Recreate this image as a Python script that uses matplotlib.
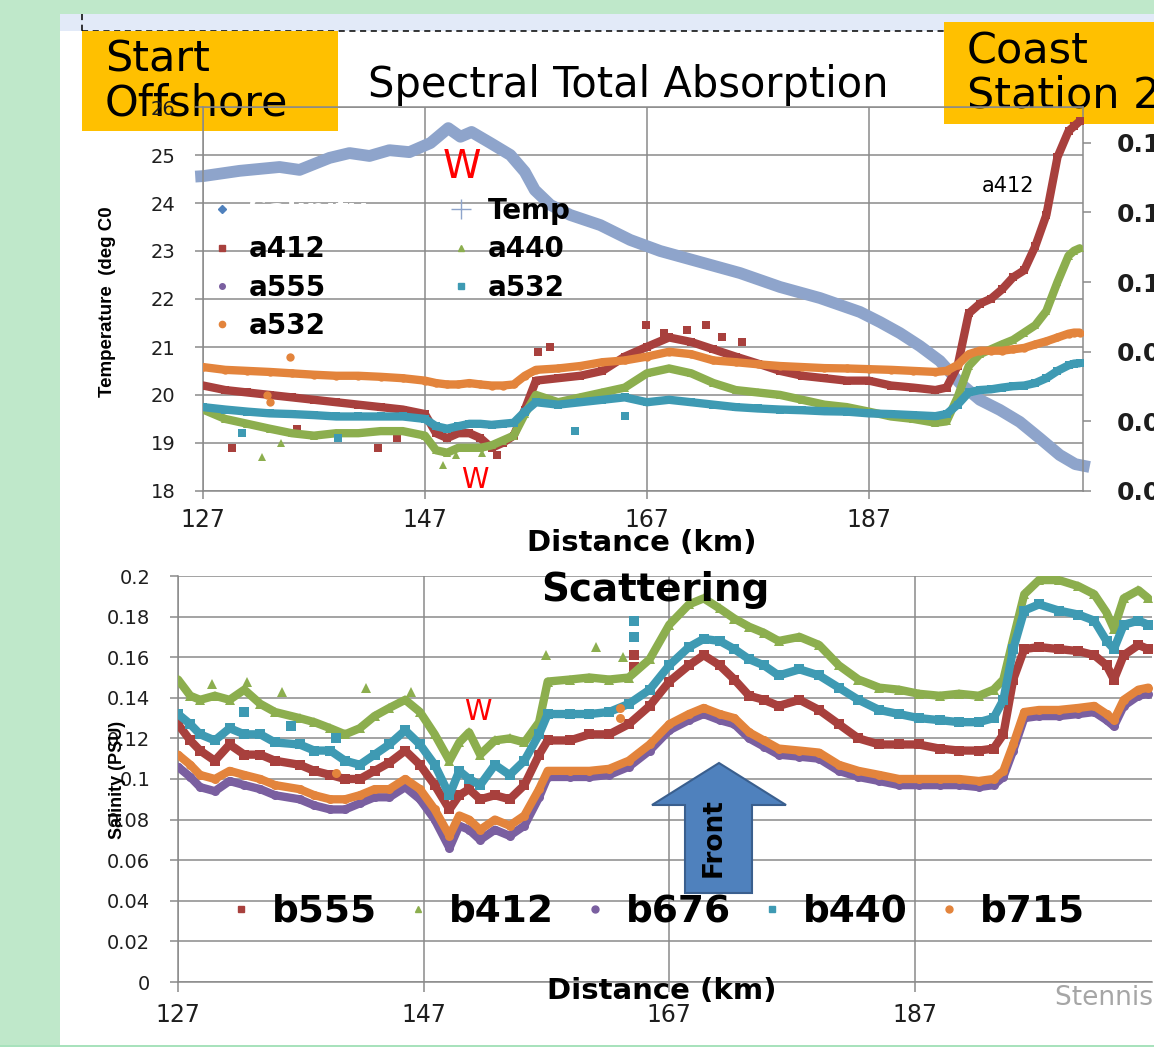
import matplotlib
matplotlib.use("Agg")
import matplotlib.pyplot as plt
from matplotlib.patches import Rectangle, Polygon
from matplotlib.lines import Line2D

# ---------------- upper panel: temperature (left) + spectral absorption (right)
temp_km = [126.3, 127.0, 130.3, 133.9, 135.7, 138.4, 140.2, 142.0, 143.8, 145.6,
           147.5, 149.1, 150.2, 151.2, 152.9, 154.7, 156.0, 156.9, 158.3, 160.1,
           162.8, 165.5, 168.2, 171.8, 175.4, 179.0, 182.6, 186.2, 188.0, 189.8,
           191.6, 193.4, 195.2, 197.0, 198.8, 200.6, 202.4, 204.2, 205.6, 206.9]
temp_degc = [24.55, 24.56, 24.67, 24.75, 24.69, 24.94, 25.04, 24.98, 25.10, 25.06,
             25.25, 25.56, 25.38, 25.48, 25.25, 25.00, 24.65, 24.27, 23.96, 23.75,
             23.54, 23.23, 23.00, 22.77, 22.54, 22.25, 22.02, 21.73, 21.52, 21.29,
             21.02, 20.71, 20.25, 19.90, 19.69, 19.44, 19.10, 18.75, 18.56, 18.50]

abs_km = [127, 129, 131, 133, 135, 137, 139, 141, 143, 145,
          147, 148, 149, 150, 151, 152, 153, 154, 155, 156,
          157, 159, 161, 163, 165, 167, 169, 171, 173, 175,
          177, 179, 181, 183, 185, 187, 189, 191, 193, 194,
          195, 196, 197, 198, 199, 200, 201, 202, 203, 204,
          205, 205.5, 206]
a412 = [0.0703, 0.0690, 0.0683, 0.0676, 0.0669, 0.0662, 0.0655, 0.0648, 0.0641, 0.0634,
        0.0621, 0.0566, 0.0552, 0.0566, 0.0566, 0.0552, 0.0524, 0.0538, 0.0559, 0.0634,
        0.0717, 0.0724, 0.0731, 0.0745, 0.0786, 0.0814, 0.0841, 0.0828, 0.0807, 0.0786,
        0.0766, 0.0745, 0.0731, 0.0724, 0.0717, 0.0717, 0.0703, 0.0697, 0.0690, 0.0697,
        0.0759, 0.0910, 0.0938, 0.0952, 0.0979, 0.1014, 0.1034, 0.1103, 0.1193, 0.1359,
        0.1434, 0.1448, 0.1462]
a440 = [0.0634, 0.0607, 0.0593, 0.0579, 0.0566, 0.0559, 0.0566, 0.0566, 0.0572, 0.0572,
        0.0559, 0.0517, 0.0510, 0.0524, 0.0524, 0.0524, 0.0531, 0.0545, 0.0559, 0.0621,
        0.0676, 0.0655, 0.0669, 0.0683, 0.0697, 0.0738, 0.0752, 0.0738, 0.0710, 0.0690,
        0.0683, 0.0676, 0.0662, 0.0648, 0.0641, 0.0628, 0.0614, 0.0607, 0.0596, 0.0600,
        0.0669, 0.0759, 0.0793, 0.0807, 0.0821, 0.0834, 0.0855, 0.0876, 0.0917, 0.1000,
        0.1076, 0.1090, 0.1097]
a532_blue = [0.0641, 0.0634, 0.0628, 0.0623, 0.0621, 0.0618, 0.0614, 0.0614, 0.0614, 0.0614,
             0.0607, 0.0586, 0.0579, 0.0586, 0.0593, 0.0593, 0.0590, 0.0593, 0.0596, 0.0628,
             0.0655, 0.0648, 0.0655, 0.0662, 0.0669, 0.0655, 0.0662, 0.0655, 0.0648, 0.0641,
             0.0637, 0.0634, 0.0632, 0.0629, 0.0628, 0.0623, 0.0621, 0.0618, 0.0615, 0.0621,
             0.0648, 0.0683, 0.0690, 0.0692, 0.0697, 0.0701, 0.0703, 0.0710, 0.0724, 0.0745,
             0.0761, 0.0766, 0.0767]
a532_orange = [0.0756, 0.0748, 0.0745, 0.0742, 0.0738, 0.0734, 0.0731, 0.0731, 0.0728, 0.0724,
               0.0717, 0.0710, 0.0706, 0.0706, 0.0710, 0.0706, 0.0703, 0.0703, 0.0706, 0.0731,
               0.0748, 0.0752, 0.0759, 0.0770, 0.0775, 0.0786, 0.0800, 0.0793, 0.0775, 0.0770,
               0.0764, 0.0759, 0.0756, 0.0753, 0.0752, 0.0750, 0.0748, 0.0745, 0.0742, 0.0745,
               0.0762, 0.0793, 0.0803, 0.0803, 0.0803, 0.0807, 0.0811, 0.0821, 0.0830, 0.0841,
               0.0852, 0.0855, 0.0855]

# isolated samples lying off the main absorption bands
a412_stray_km = [129.6, 135.5, 142.8, 144.5, 153.5, 157.2, 158.3, 166.9, 168.5, 170.6,
                 172.3, 173.8, 175.6]
a412_stray = [0.0524, 0.0579, 0.0524, 0.0552, 0.0503, 0.0800, 0.0814, 0.0876, 0.0855, 0.0862,
              0.0876, 0.0841, 0.0828]
a440_stray_km = [132.3, 134.0, 148.6, 149.8, 152.1]
a440_stray = [0.0497, 0.0538, 0.0476, 0.0503, 0.0510]
a532_blue_stray_km = [130.5, 139.2, 160.5, 165.0]
a532_blue_stray = [0.0566, 0.0552, 0.0572, 0.0614]
a532_orange_stray_km = [134.8, 132.8, 133.0]
a532_orange_stray = [0.0786, 0.0676, 0.0655]

# ---------------- lower panel: spectral scattering
scat_km = [127.0, 128.0, 128.8, 130.0, 131.2, 132.4, 133.7, 134.9, 136.9, 138.1,
           139.4, 140.6, 141.8, 143.0, 144.2, 145.5, 146.7, 147.9, 149.1, 149.9,
           150.7, 151.6, 152.8, 154.0, 155.2, 156.4, 157.1, 158.9, 160.5, 162.1,
           163.7, 165.4, 167.0, 168.6, 169.8, 171.1, 172.3, 173.5, 174.7, 175.9,
           177.6, 179.2, 180.8, 182.4, 184.1, 185.7, 187.3, 189.0, 190.6, 192.2,
           193.4, 194.2, 195.0, 195.9, 197.1, 198.7, 200.3, 201.6, 202.6, 203.2,
           204.0, 205.2, 206.0]
b412 = [0.149, 0.141, 0.139, 0.141, 0.139, 0.144, 0.137, 0.133, 0.130, 0.128,
        0.125, 0.122, 0.125, 0.131, 0.135, 0.139, 0.133, 0.122, 0.109, 0.118,
        0.123, 0.112, 0.119, 0.120, 0.118, 0.128, 0.148, 0.149, 0.150, 0.149,
        0.150, 0.159, 0.176, 0.186, 0.189, 0.184, 0.179, 0.175, 0.172, 0.168,
        0.170, 0.166, 0.156, 0.149, 0.145, 0.144, 0.142, 0.141, 0.142, 0.141,
        0.144, 0.149, 0.169, 0.191, 0.198, 0.198, 0.195, 0.191, 0.182, 0.174,
        0.189, 0.193, 0.189]
b440 = [0.132, 0.127, 0.122, 0.119, 0.125, 0.122, 0.122, 0.118, 0.117, 0.114,
        0.114, 0.109, 0.107, 0.112, 0.117, 0.124, 0.117, 0.107, 0.092, 0.104,
        0.100, 0.097, 0.107, 0.102, 0.109, 0.122, 0.132, 0.132, 0.132, 0.133,
        0.137, 0.144, 0.156, 0.165, 0.169, 0.168, 0.164, 0.159, 0.156, 0.151,
        0.154, 0.151, 0.145, 0.139, 0.134, 0.132, 0.130, 0.129, 0.128, 0.128,
        0.130, 0.139, 0.164, 0.183, 0.186, 0.183, 0.181, 0.178, 0.168, 0.164,
        0.176, 0.178, 0.176]
b555 = [0.127, 0.119, 0.114, 0.109, 0.117, 0.112, 0.112, 0.109, 0.107, 0.104,
        0.102, 0.100, 0.100, 0.104, 0.108, 0.114, 0.107, 0.097, 0.085, 0.092,
        0.095, 0.090, 0.092, 0.090, 0.097, 0.112, 0.119, 0.119, 0.122, 0.122,
        0.127, 0.136, 0.148, 0.156, 0.161, 0.156, 0.149, 0.141, 0.139, 0.136,
        0.139, 0.134, 0.127, 0.120, 0.117, 0.117, 0.117, 0.115, 0.114, 0.114,
        0.115, 0.122, 0.149, 0.164, 0.165, 0.164, 0.163, 0.161, 0.156, 0.149,
        0.161, 0.166, 0.164]
b715 = [0.112, 0.107, 0.102, 0.100, 0.104, 0.102, 0.100, 0.097, 0.095, 0.092,
        0.090, 0.090, 0.092, 0.095, 0.095, 0.100, 0.095, 0.085, 0.072, 0.082,
        0.080, 0.075, 0.080, 0.077, 0.082, 0.095, 0.104, 0.104, 0.104, 0.105,
        0.109, 0.117, 0.127, 0.132, 0.135, 0.132, 0.130, 0.123, 0.119, 0.115,
        0.114, 0.113, 0.107, 0.104, 0.102, 0.100, 0.100, 0.100, 0.100, 0.099,
        0.100, 0.104, 0.117, 0.133, 0.134, 0.134, 0.135, 0.136, 0.132, 0.129,
        0.139, 0.144, 0.145]
b676 = [0.106, 0.101, 0.096, 0.094, 0.099, 0.097, 0.095, 0.092, 0.090, 0.087,
        0.085, 0.085, 0.088, 0.091, 0.091, 0.096, 0.090, 0.080, 0.066, 0.077,
        0.075, 0.070, 0.075, 0.072, 0.077, 0.091, 0.101, 0.101, 0.101, 0.102,
        0.106, 0.114, 0.124, 0.129, 0.132, 0.129, 0.127, 0.120, 0.116, 0.112,
        0.111, 0.110, 0.104, 0.101, 0.099, 0.097, 0.097, 0.097, 0.097, 0.096,
        0.097, 0.101, 0.114, 0.130, 0.131, 0.131, 0.132, 0.133, 0.129, 0.126,
        0.136, 0.141, 0.142]

# isolated samples lying off the main scattering bands
b412_stray_km = [129.8, 132.6, 135.5, 142.3, 146.0, 157.0, 161.0, 163.2]
b412_stray = [0.147, 0.148, 0.143, 0.145, 0.143, 0.161, 0.165, 0.160]
b440_stray_km = [164.1, 164.1, 139.9, 132.4, 136.2]
b440_stray = [0.178, 0.170, 0.120, 0.133, 0.126]
b555_stray_km = [164.1, 164.1]
b555_stray = [0.161, 0.155]
b715_stray_km = [163.0, 163.0, 139.9]
b715_stray = [0.135, 0.130, 0.103]

dist_ticks = [127, 147, 167, 187]
temp_ticks = [18, 19, 20, 21, 22, 23, 24, 25, 26]
abs_ticks = [0.04, 0.06, 0.08, 0.10, 0.12, 0.14]
abs_tick_labels = ["0.04", "0.06", "0.08", "0.1", "0.12", "0.14"]
scat_ticks = [0, 0.02, 0.04, 0.06, 0.08, 0.10, 0.12, 0.14, 0.16, 0.18, 0.20]
scat_tick_labels = ["0", "0.02", "0.04", "0.06", "0.08", "0.1",
                    "0.12", "0.14", "0.16", "0.18", "0.2"]

RED = "#A8403D"
GREEN = "#8CAE4E"
PURPLE = "#7A5FA0"
TEAL = "#3E9AB3"
ORANGE = "#E3843C"
TEMP = "#8EA4CB"
SALT = "#4F81BD"
GRID = "#8A8A8A"
GOLD = "#FFC000"
TICKC = "#1E1E1E"
NARROW = ["Liberation Sans Narrow", "DejaVu Sans Condensed", "Liberation Sans"]

W, H = 1154, 1047
fig = plt.figure(figsize=(W / 100, H / 100), dpi=100, facecolor="#BFE8CA")


def fx(x):
    return x / W


def fy(y):
    return 1 - y / H


def box(x0, y0, x1, y1, **kw):
    fig.add_artist(Rectangle((fx(x0), fy(y1)), fx(x1) - fx(x0), fy(y0) - fy(y1),
                             transform=fig.transFigure, **kw))


def ftext(x, y, s, **kw):
    fig.text(fx(x), fy(y), s, **kw)


# slide background and the clipped text box along the top
box(60, 14, 1154, 1045, facecolor="white", edgecolor="none", zorder=-6)
box(60, 14, 1154, 31, facecolor="#E2EAF8", edgecolor="none", zorder=-5)
fig.add_artist(Line2D([fx(82), fx(944)], [fy(31), fy(31)], color="black", lw=1.1,
                      ls=(0, (4, 3)), transform=fig.transFigure, zorder=-4))
fig.add_artist(Line2D([fx(82), fx(82)], [fy(14), fy(31)], color="black", lw=1.1,
                      ls=(0, (4, 3)), transform=fig.transFigure, zorder=-4))

# callout boxes (sit behind the chart)
box(82, 31, 338, 131, facecolor=GOLD, edgecolor="none", zorder=-3)
box(944, 22, 1160, 124, facecolor=GOLD, edgecolor="none", zorder=-3)
ftext(105, 72, "Start", fontsize=31, va="baseline", ha="left", zorder=-2)
ftext(105, 115, "Offshore", fontsize=31, va="baseline", ha="left", zorder=-2)
ftext(967, 63, "Coast", fontsize=31, va="baseline", ha="left", zorder=-2)
ftext(967, 107, "Station 2", fontsize=31, va="baseline", ha="left", zorder=-2)

# ======================= upper chart =======================
ax = fig.add_axes([fx(203), fy(491), (1083 - 203) / W, (491 - 107) / H])
ax.set_facecolor("none")
ax.set_xlim(127, 206.3)
ax.set_ylim(18, 26)
ax.set_xticks(dist_ticks)
ax.set_yticks(temp_ticks)
ax.grid(True, color=GRID, lw=1.1)
ax.set_axisbelow(True)
for side in ("left", "bottom", "top"):
    ax.spines[side].set_color(GRID)
    ax.spines[side].set_linewidth(1.1)
ax.spines["right"].set_visible(False)
ax.tick_params(axis="y", direction="out", length=6, width=1.1, color=GRID,
               labelsize=14, labelcolor=TICKC, pad=14)
ax.tick_params(axis="x", direction="out", length=6, width=1.1, color=GRID,
               labelsize=17, labelcolor=TICKC, pad=6)
ax.plot(temp_km, temp_degc, color=TEMP, lw=8.5, solid_capstyle="butt",
        clip_on=False, zorder=2)

ax2 = ax.twinx()
ax2.set_ylim(0.04, 0.1503)
ax2.set_yticks(abs_ticks)
ax2.set_yticklabels(abs_tick_labels, fontweight="bold")
for side in ("left", "bottom", "top"):
    ax2.spines[side].set_visible(False)
ax2.spines["right"].set_color(GRID)
ax2.spines["right"].set_linewidth(1.1)
ax2.tick_params(axis="y", direction="out", length=6, width=1.1, color=GRID,
                labelsize=18, labelcolor=TICKC, pad=18)

top_series = ((a412, a412_stray_km, a412_stray, RED, "s"),
              (a440, a440_stray_km, a440_stray, GREEN, "^"),
              (a532_blue, a532_blue_stray_km, a532_blue_stray, TEAL, "s"),
              (a532_orange, a532_orange_stray_km, a532_orange_stray, ORANGE, "o"))
for vals, skm, sval, col, mk in top_series:
    ax2.plot(abs_km, vals, color=col, lw=6, marker=mk, ms=6, mew=0,
             solid_capstyle="round", zorder=3)
    ax2.plot(skm, sval, ls="none", color=col, marker=mk, ms=6, mew=0, zorder=3)

top_handles = [
    Line2D([], [], ls="none", marker="D", ms=4, color=SALT),
    Line2D([], [], ls="none", marker="s", ms=4.5, color=RED),
    Line2D([], [], ls="none", marker="o", ms=4, color=PURPLE),
    Line2D([], [], ls="none", marker="o", ms=4.5, color=ORANGE),
    Line2D([], [], ls="none", marker="+", ms=14, mew=1.0, color=TEMP),
    Line2D([], [], ls="none", marker="^", ms=4.5, color=GREEN),
    Line2D([], [], ls="none", marker="s", ms=4.5, color=TEAL),
]
top_labels = ["Salinity", "a412", "a555", "a532", "Temp", "a440", "a532"]
leg = ax2.legend(top_handles, top_labels, ncol=2, loc="upper left",
                 bbox_to_anchor=(fx(208), fy(197)), bbox_transform=fig.transFigure,
                 frameon=False, prop={"weight": "bold", "size": 20},
                 handlelength=1.0, handletextpad=0.45, columnspacing=2.9,
                 labelspacing=0.37, borderpad=0, borderaxespad=0)
leg.get_texts()[0].set_color("white")

ftext(628, 97, "Spectral Total Absorption", fontsize=30, ha="center", va="baseline")
ftext(642, 551, "Distance (km)", fontsize=21, fontweight="bold", ha="center",
      va="baseline")
ftext(108, 302, "Temperature  (deg C0", fontsize=13.5, fontweight="bold",
      family=NARROW, rotation=90, ha="center", va="center")
ftext(462, 178, "W", fontsize=28, color="#FF0000", ha="center", va="baseline", zorder=5)
ftext(475, 488, "W", fontsize=20, color="#FF0000", ha="center", va="baseline", zorder=5)
ftext(1008, 192, "a412", fontsize=15, ha="center", va="baseline", zorder=5)

# ======================= lower chart =======================
axb = fig.add_axes([fx(178), fy(982), (1152 - 178) / W, (982 - 576) / H])
axb.set_facecolor("none")
axb.set_xlim(127, 206.3)
axb.set_ylim(0, 0.2)
axb.set_xticks(dist_ticks)
axb.set_yticks(scat_ticks)
axb.set_yticklabels(scat_tick_labels)
axb.grid(True, color=GRID, lw=1.1)
axb.set_axisbelow(True)
for side in ("left", "bottom"):
    axb.spines[side].set_color(GRID)
    axb.spines[side].set_linewidth(1.1)
for side in ("top", "right"):
    axb.spines[side].set_visible(False)
axb.tick_params(axis="y", direction="out", length=6, width=1.1, color=GRID,
                labelsize=14, labelcolor=TICKC, pad=14)
axb.tick_params(axis="x", direction="out", length=7, width=1.1, color=GRID,
                labelsize=17, labelcolor=TICKC, pad=8)

scat_series = [(b555, b555_stray_km, b555_stray, RED, "s", "b555"),
               (b412, b412_stray_km, b412_stray, GREEN, "^", "b412"),
               (b676, [], [], PURPLE, "o", "b676"),
               (b440, b440_stray_km, b440_stray, TEAL, "s", "b440"),
               (b715, b715_stray_km, b715_stray, ORANGE, "o", "b715")]
bot_handles, bot_labels = [], []
for vals, skm, sval, col, mk, name in scat_series:
    axb.plot(scat_km, vals, color=col, lw=6, marker=mk, ms=6.5, mew=0,
             solid_capstyle="round", zorder=3)
    axb.plot(skm, sval, ls="none", color=col, marker=mk, ms=6.5, mew=0, zorder=3)
    bot_handles.append(Line2D([], [], ls="none", marker=mk, ms=5, color=col))
    bot_labels.append(name)

axb.legend(bot_handles, bot_labels, ncol=5, loc="center left",
           bbox_to_anchor=(fx(226), fy(912)), bbox_transform=fig.transFigure,
           frameon=False, prop={"weight": "bold", "size": 27},
           handlelength=0.8, handletextpad=0.43, columnspacing=0.69,
           borderpad=0, borderaxespad=0)

ftext(655, 601, "Scattering", fontsize=28, fontweight="bold", ha="center",
      va="baseline", zorder=5)
ftext(662, 999, "Distance (km)", fontsize=21, fontweight="bold", ha="center",
      va="baseline", zorder=5)
ftext(118, 780, "Salinity (PSU)", fontsize=13, fontweight="bold",
      family=NARROW, rotation=90, ha="center", va="center", zorder=5)
ftext(478, 720, "W", fontsize=20, color="#FF0000", ha="center", va="baseline", zorder=5)
ftext(1055, 1005, "Stennis Space Center", fontsize=19, color="#A6A6A6",
      ha="left", va="baseline", zorder=5)

# "Front" block arrow
arrow_px = [(719, 763), (786, 805), (752, 805), (752, 893),
            (685, 893), (685, 805), (652, 805)]
fig.add_artist(Polygon([(fx(x), fy(y)) for x, y in arrow_px], closed=True,
                       transform=fig.transFigure, facecolor="#4F81BD",
                       edgecolor="#3A5F8E", lw=1.5, zorder=4))
ftext(714, 838, "Front", fontsize=19, fontweight="bold", rotation=90,
      ha="center", va="center", zorder=5)

# thin strip of the slide border at the bottom
box(0, 1045, 1154, 1047, facecolor="#A8E2BC", edgecolor="none", zorder=-1)

fig.savefig("out.png", dpi=100, facecolor=fig.get_facecolor())
